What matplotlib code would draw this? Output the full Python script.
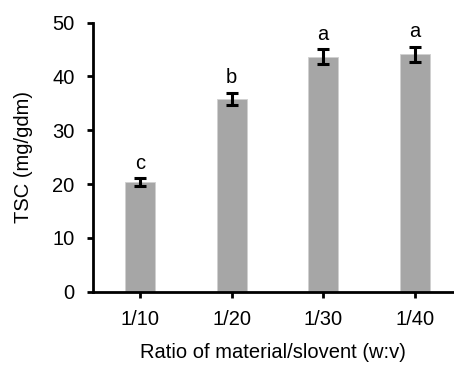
import matplotlib
matplotlib.use("Agg")
import matplotlib.pyplot as plt
import numpy as np

# Data
categories = ["1/10", "1/20", "1/30", "1/40"]
tsc_values = [20.4, 35.8, 43.7, 44.1]
tsc_errors = [0.7, 1.2, 1.4, 1.4]
letters = ["c", "b", "a", "a"]

plt.rcParams["font.family"] = ["Liberation Sans", "DejaVu Sans"]
fs = 14.5

fig = plt.figure(figsize=(4.54, 3.65), dpi=100)
ax = fig.add_axes([0.204, 0.201, 0.794, 0.737])

x = np.arange(len(categories))
ax.bar(x, tsc_values, width=0.33, color="#a6a6a6", edgecolor="#d0d0d0",
       linewidth=0.6, zorder=2)
ax.errorbar(x, tsc_values, yerr=tsc_errors, fmt="none", ecolor="black",
            elinewidth=2.2, capsize=4.5, capthick=2.2, zorder=3)

for xi, v, e, lab in zip(x, tsc_values, tsc_errors, letters):
    ax.text(xi, v + e + 1.0, lab, ha="center", va="bottom", fontsize=fs)

ax.set_xlim(-0.52, 3.42)
ax.set_ylim(0, 50)
ax.set_yticks([0, 10, 20, 30, 40, 50])
ax.set_xticks(x)
ax.set_xticklabels(categories)

for side in ["top", "right"]:
    ax.spines[side].set_visible(False)
for side in ["left", "bottom"]:
    ax.spines[side].set_linewidth(2.0)

ax.tick_params(axis="y", direction="out", length=4, width=2.0, labelsize=fs, pad=9)
ax.tick_params(axis="x", direction="out", length=4, width=2.0, labelsize=fs, pad=9)

ax.set_ylabel("TSC (mg/gdm)", fontsize=fs, labelpad=14)
ax.set_xlabel("Ratio of material/slovent (w:v)", fontsize=fs, labelpad=10)

fig.savefig("out.png", dpi=100)
